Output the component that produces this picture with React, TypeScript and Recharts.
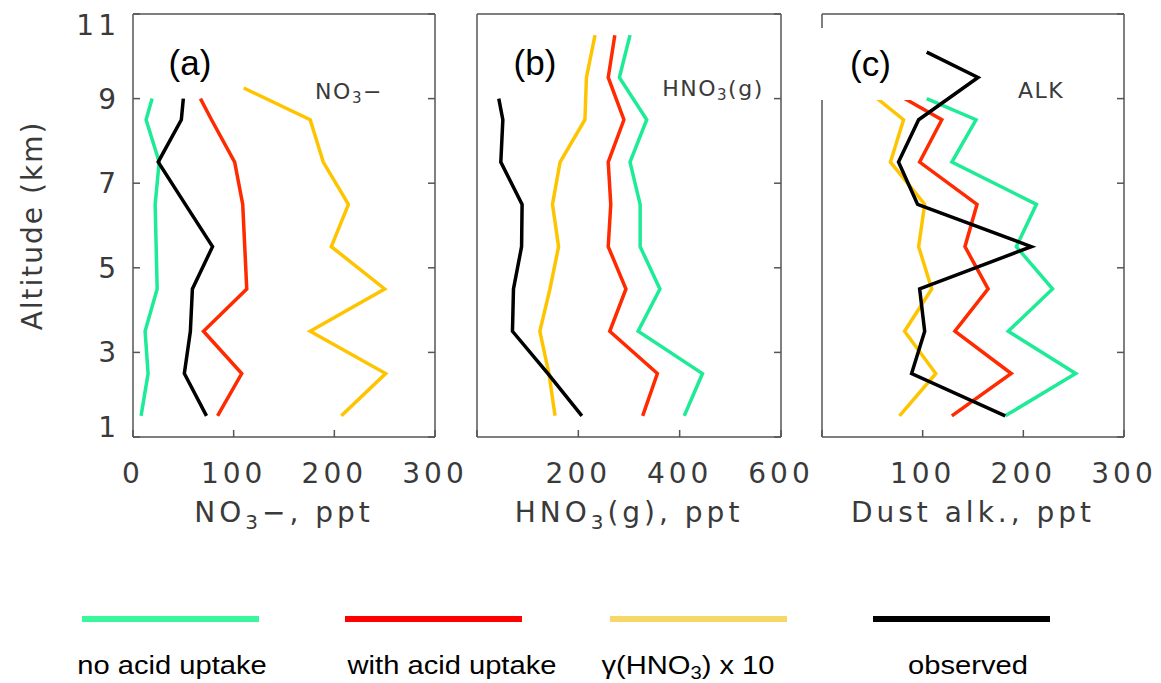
import React from "react";
import { ScatterChart, Scatter, XAxis, YAxis } from "recharts";

// altitude levels, km
const altStd = [1.5, 2.5, 3.5, 4.5, 5.5, 6.5, 7.5, 8.5, 9];
const altGammaA = [1.5, 2.5, 3.5, 4.5, 5.5, 6.5, 7.5, 8.5, 9.25];
const altModelB = [1.5, 2.5, 3.5, 4.5, 5.5, 6.5, 7.5, 8.5, 9.5, 10.5];
const altObsC = [1.5, 2.5, 3.5, 4.5, 5.5, 6.5, 7.5, 8.5, 9.5, 10.1];

// (a) NO3- , ppt
const no3NoUptake = [8, 15, 12, 24, 23, 22, 26, 13, 19];
const no3WithUptake = [84, 108, 70, 113, 111, 109, 101, 78, 67];
const no3Gamma = [207, 251, 176, 250, 197, 214, 189, 176, 110];
const no3Observed = [73, 51, 57, 59, 79, 52, 25, 48, 50];

// (b) HNO3(g), ppt
const hno3NoUptake = [409, 445, 318, 361, 322, 322, 302, 335, 281, 302];
const hno3WithUptake = [327, 356, 262, 294, 259, 264, 259, 290, 259, 272];
const hno3Gamma = [154, 142, 124, 144, 161, 149, 164, 213, 216, 233];
const hno3Observed = [207, 140, 70, 72, 88, 89, 47, 51, 43];

// (c) dust alkalinity, ppt
const alkNoUptake = [182, 252, 185, 229, 193, 213, 129, 153, 104];
const alkWithUptake = [129, 188, 132, 165, 142, 154, 97, 119, 82];
const alkGamma = [77, 113, 82, 109, 96, 102, 68, 81, 55];
const alkObserved = [182, 89, 102, 97, 208, 95, 76, 96, 155, 104];

const yTicks = [1, 3, 5, 7, 9, 11];
const ticks300 = [0, 100, 200, 300];
const ticks600 = [0, 200, 400, 600];

const seriesNames = ["no acid uptake", "with acid uptake", "γ(HNO₃) x 10", "observed"];
const lineColors = ["#1DEB96", "#FF2A00", "#FFC400", "#000000"];
const legendColors = ["#38F79C", "#FF0000", "#F6D868", "#000000"];

const profile = (vals: number[], alts: number[]) =>
    vals.map((v, i) => ({ x: v, y: alts[i] }));

const AXIS_FONT = "'DejaVu Sans', sans-serif";
const TEXT_GRAY = "#3a3a3a";
const axisStroke = { stroke: "#555", strokeWidth: 1.5 };
const tickStyle = { fill: TEXT_GRAY, fontSize: 28, fontFamily: AXIS_FONT };

const NoDot = () => <g />;

// y labels: the end labels (1 and 11) sit just inside the box
const AltTick = (props: any) => {
    const { x, y, payload } = props;
    const v = payload.value;
    const shift = v === 11 ? 11 : v === 1 ? -10 : 0;
    return (
        <text
            x={x}
            y={y + shift}
            dy="0.36em"
            textAnchor="end"
            fill={TEXT_GRAY}
            fontSize={28}
            fontFamily={AXIS_FONT}
            style={{ letterSpacing: 4 }}
        >
            {v}
        </text>
    );
};

const makeTitle = (main: string, sub: string, rest: string) => (props: any) => {
    const { x, y, width } = props.viewBox;
    return (
        <text
            x={x + width / 2}
            y={y + 85}
            textAnchor="middle"
            fill={TEXT_GRAY}
            fontSize={28}
            fontFamily={AXIS_FONT}
            style={{ letterSpacing: 4 }}
        >
            {main}
            {sub && (
                <tspan dy={7} fontSize={20}>
                    {sub}
                </tspan>
            )}
            <tspan dy={sub ? -7 : 0}>{rest}</tspan>
        </text>
    );
};

const altitudeTitle = (props: any) => {
    const { x, y, height } = props.viewBox;
    const cx = x + 42;
    const cy = y + height / 2;
    return (
        <text
            x={cx}
            y={cy}
            transform={`rotate(-90 ${cx} ${cy})`}
            textAnchor="middle"
            fill={TEXT_GRAY}
            fontSize={28}
            fontFamily={AXIS_FONT}
            style={{ letterSpacing: 2 }}
        >
            Altitude (km)
        </text>
    );
};

const panels = [
    {
        id: "a",
        left: 0,
        leftW: 133,
        plotW: 302,
        rightM: 33,
        xMax: 300,
        xTicks: ticks300,
        hideZero: false,
        showY: true,
        title: makeTitle("NO", "3", "−, ppt"),
        series: [
            profile(no3NoUptake, altStd),
            profile(no3WithUptake, altStd),
            profile(no3Gamma, altGammaA),
            profile(no3Observed, altStd),
        ],
    },
    {
        id: "b",
        left: 475,
        leftW: 2,
        plotW: 304,
        rightM: 32,
        xMax: 600,
        xTicks: ticks600,
        hideZero: true,
        showY: false,
        title: makeTitle("HNO", "3", "(g), ppt"),
        series: [
            profile(hno3NoUptake, altModelB),
            profile(hno3WithUptake, altModelB),
            profile(hno3Gamma, altModelB),
            profile(hno3Observed, altStd),
        ],
    },
    {
        id: "c",
        left: 820,
        leftW: 2,
        plotW: 302,
        rightM: 35,
        xMax: 300,
        xTicks: ticks300,
        hideZero: true,
        showY: false,
        title: makeTitle("Dust alk., ppt", "", ""),
        series: [
            profile(alkNoUptake, altStd),
            profile(alkWithUptake, altStd),
            profile(alkGamma, altStd),
            profile(alkObserved, altObsC),
        ],
    },
];

const Panel = ({ p }: { p: (typeof panels)[number] }) => {
    const width = p.leftW + p.plotW + 2 + p.rightM;
    return (
        <div style={{ position: "absolute", left: p.left, top: 0 }}>
            <ScatterChart
                width={width}
                height={540}
                margin={{ top: 12, right: p.rightM, bottom: 0, left: 0 }}
            >
                <XAxis
                    xAxisId="bottom"
                    orientation="bottom"
                    type="number"
                    dataKey="x"
                    domain={[0, p.xMax]}
                    ticks={p.xTicks}
                    interval={0}
                    allowDataOverflow
                    height={103}
                    tickSize={-7}
                    tickMargin={33}
                    axisLine={axisStroke}
                    tickLine={axisStroke}
                    tick={tickStyle}
                    tickFormatter={(v: number) => (p.hideZero && v === 0 ? "" : String(v))}
                    label={p.title}
                />
                <XAxis
                    xAxisId="top"
                    orientation="top"
                    type="number"
                    domain={[0, p.xMax]}
                    ticks={p.xTicks}
                    interval={0}
                    allowDataOverflow
                    height={2}
                    tickSize={-7}
                    axisLine={axisStroke}
                    tickLine={axisStroke}
                    tickFormatter={() => ""}
                />
                <YAxis
                    yAxisId="left"
                    orientation="left"
                    type="number"
                    dataKey="y"
                    domain={[1, 11]}
                    ticks={yTicks}
                    interval={0}
                    allowDataOverflow
                    width={p.leftW}
                    tickSize={-7}
                    tickMargin={20}
                    axisLine={axisStroke}
                    tickLine={axisStroke}
                    tick={p.showY ? AltTick : false}
                    label={p.showY ? altitudeTitle : undefined}
                />
                <YAxis
                    yAxisId="right"
                    orientation="right"
                    type="number"
                    domain={[1, 11]}
                    ticks={yTicks}
                    interval={0}
                    allowDataOverflow
                    width={2}
                    tickSize={-7}
                    axisLine={axisStroke}
                    tickLine={axisStroke}
                    tickFormatter={() => ""}
                />
                {p.series.map((pts, i) => (
                    <Scatter
                        key={`${p.id}-${i}`}
                        name={seriesNames[i]}
                        data={pts}
                        xAxisId="bottom"
                        yAxisId="left"
                        line={{ stroke: lineColors[i], strokeWidth: 3.5 }}
                        shape={NoDot}
                        legendType="none"
                        isAnimationActive={false}
                    />
                ))}
            </ScatterChart>
        </div>
    );
};

const panelLetters = [
    { text: "(a)", x: 190 },
    { text: "(b)", x: 535 },
];

const notes = [
    { main: "NO", sub: "3", rest: "−", x: 349, y: 95 },
    { main: "HNO", sub: "3", rest: "(g)", x: 713, y: 92 },
    { main: "ALK", sub: "", rest: "", x: 1041, y: 91 },
];

const legendLineLeft = [82, 345, 610, 873];
const legendTextCenter = [172, 452, 688, 968];

const letterStyle: React.CSSProperties = {
    position: "absolute",
    fontFamily: "'Liberation Sans', Arial, sans-serif",
    fontSize: 35,
    lineHeight: "40px",
    color: "#000",
};

export default function App() {
    return (
        <div
            style={{
                position: "absolute",
                left: 0,
                top: 0,
                width: 1161,
                height: 683,
                background: "#fff",
                overflow: "hidden",
            }}
        >
            <style>{`.recharts-cartesian-axis-tick-value { letter-spacing: 4px; }`}</style>
            {panels.map((p) => (
                <Panel key={p.id} p={p} />
            ))}

            {panelLetters.map((l) => (
                <div
                    key={l.text}
                    style={{ ...letterStyle, left: l.x, top: 63, transform: "translate(-50%, -50%)" }}
                >
                    {l.text}
                </div>
            ))}
            <div
                style={{
                    ...letterStyle,
                    left: 815,
                    top: 28,
                    width: 111,
                    height: 72,
                    background: "#fff",
                    display: "flex",
                    alignItems: "center",
                    justifyContent: "center",
                }}
            >
                (c)
            </div>

            {notes.map((n) => (
                <div
                    key={n.main}
                    style={{
                        position: "absolute",
                        left: n.x,
                        top: n.y,
                        transform: "translate(-50%, -50%)",
                        fontFamily: AXIS_FONT,
                        fontSize: 22,
                        lineHeight: "26px",
                        letterSpacing: 1.5,
                        color: TEXT_GRAY,
                        whiteSpace: "nowrap",
                    }}
                >
                    {n.main}
                    {n.sub && <span style={{ fontSize: 15, verticalAlign: "-4px" }}>{n.sub}</span>}
                    {n.rest}
                </div>
            ))}

            {seriesNames.map((name, i) => (
                <React.Fragment key={name}>
                    <div
                        style={{
                            position: "absolute",
                            left: legendLineLeft[i],
                            top: 616,
                            width: 177,
                            height: 6,
                            background: legendColors[i],
                        }}
                    />
                    <div
                        style={{
                            position: "absolute",
                            left: legendTextCenter[i],
                            top: 648,
                            transform: "translateX(-50%) scaleX(1.12)",
                            fontFamily: "'Liberation Sans', Arial, sans-serif",
                            fontSize: 26,
                            lineHeight: "34px",
                            color: "#000",
                            whiteSpace: "nowrap",
                        }}
                    >
                        {name === "γ(HNO₃) x 10" ? (
                            <>
                                γ(HNO<span style={{ fontSize: 18, verticalAlign: "-5px" }}>3</span>) x 10
                            </>
                        ) : (
                            name
                        )}
                    </div>
                </React.Fragment>
            ))}
        </div>
    );
}
